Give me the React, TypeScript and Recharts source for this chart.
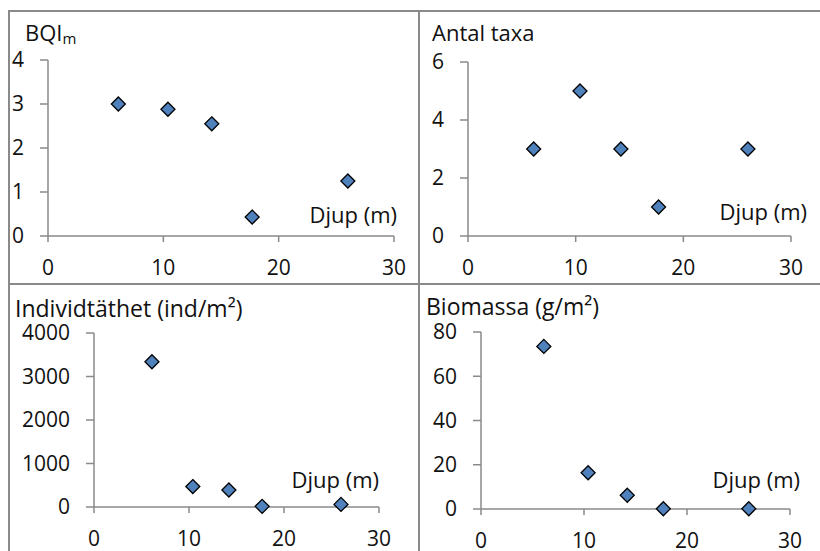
import { ScatterChart, Scatter, XAxis, YAxis } from "recharts";

// depth of each station (m)
const depth = [6.1, 10.4, 14.2, 17.7, 26.0];

const bqi = [3.0, 2.88, 2.55, 0.43, 1.25];
const taxa = [3, 5, 3, 1, 3];
const density = [3340, 470, 390, 15, 60];
const biomass = [73.5, 16.4, 6.2, 0.1, 0.1];

const depthTicks = [0, 10, 20, 30];
const bqiTicks = [0, 1, 2, 3, 4];
const taxaTicks = [0, 2, 4, 6];
const densityTicks = [0, 1000, 2000, 3000, 4000];
const biomassTicks = [0, 20, 40, 60, 80];

const FONT = "'Open Sans', 'DejaVu Sans', sans-serif";
const AXIS = "#8a8a8a";
const BORDER = "#8a8a8a";

const toPoints = (ys: number[]) => depth.map((x, i) => ({ x, y: ys[i] }));

const Diamond = (p: any) => {
    const { cx, cy } = p;
    const r = 7;
    return (
        <path
            d={`M${cx},${cy - r}L${cx + r},${cy}L${cx},${cy + r}L${cx - r},${cy}Z`}
            fill="#4f81bd"
            stroke="#000"
            strokeWidth={1.3}
        />
    );
};

type PanelProps = {
    left: number;
    top: number;
    width: number;
    height: number;
    margin: { top: number; right: number; bottom: number; left: number };
    yWidth: number;
    values: number[];
    yTicks: number[];
    title: React.ReactNode;
    titleX: number;
    titleY: number;
    titleSize: number;
    djupDx: number;
    djupDy: number;
};

function Panel(p: PanelProps) {
    const yMax = p.yTicks[p.yTicks.length - 1];
    return (
        <div style={{ position: "absolute", left: p.left, top: p.top }}>
            <ScatterChart width={p.width} height={p.height} margin={p.margin}>
                <XAxis
                    type="number"
                    dataKey="x"
                    domain={[0, 30]}
                    ticks={depthTicks}
                    interval={0}
                    height={40}
                    stroke={AXIS}
                    strokeWidth={1.5}
                    tickSize={6}
                    tickMargin={18}
                    tick={{ fill: "#111", fontSize: 21, fontFamily: FONT }}
                    label={(lp: any) => {
                        const vb = lp.viewBox || {};
                        return (
                            <text
                                x={vb.x + vb.width + p.djupDx}
                                y={vb.y + p.djupDy}
                                textAnchor="end"
                                fontSize={22}
                                fontFamily={FONT}
                                fill="#111"
                            >
                                Djup (m)
                            </text>
                        );
                    }}
                />
                <YAxis
                    type="number"
                    dataKey="y"
                    domain={[0, yMax]}
                    ticks={p.yTicks}
                    interval={0}
                    width={p.yWidth}
                    stroke={AXIS}
                    strokeWidth={1.5}
                    tickSize={8}
                    tickMargin={16}
                    tick={{ fill: "#111", fontSize: 21, fontFamily: FONT }}
                    label={() => (
                        <text
                            x={p.titleX}
                            y={p.titleY}
                            fontSize={p.titleSize}
                            fontFamily={FONT}
                            fill="#111"
                        >
                            {p.title}
                        </text>
                    )}
                />
                <Scatter data={toPoints(p.values)} shape={Diamond} isAnimationActive={false} />
            </ScatterChart>
        </div>
    );
}

export default function App() {
    const line = (style: React.CSSProperties) => (
        <div style={{ position: "absolute", background: BORDER, ...style }} />
    );
    return (
        <div style={{ position: "absolute", left: 0, top: 0, width: 820, height: 551, background: "#fff", overflow: "hidden" }}>
            {line({ left: 8, top: 10, width: 812, height: 2 })}
            {line({ left: 8, top: 283, width: 812, height: 2 })}
            {line({ left: 8, top: 10, width: 2, height: 541 })}
            {line({ left: 418, top: 10, width: 2, height: 541 })}

            <Panel
                left={9}
                top={12}
                width={410}
                height={272}
                margin={{ top: 48, right: 25, bottom: 8, left: 0 }}
                yWidth={39}
                values={bqi}
                yTicks={bqiTicks}
                title={
                    <>
                        BQI
                        <tspan fontSize={15} dy={3}>m</tspan>
                    </>
                }
                titleX={16}
                titleY={29}
                titleSize={22}
                djupDx={3}
                djupDy={-13}
            />
            <Panel
                left={420}
                top={12}
                width={400}
                height={272}
                margin={{ top: 50, right: 29, bottom: 8, left: 0 }}
                yWidth={48}
                values={taxa}
                yTicks={taxaTicks}
                title="Antal taxa"
                titleX={12}
                titleY={29}
                titleSize={22}
                djupDx={16}
                djupDy={-16}
            />
            <Panel
                left={9}
                top={285}
                width={410}
                height={266}
                margin={{ top: 48, right: 40, bottom: 4, left: 0 }}
                yWidth={85}
                values={density}
                yTicks={densityTicks}
                title="Individtäthet (ind/m²)"
                titleX={6}
                titleY={32}
                titleSize={23}
                djupDx={0}
                djupDy={-19}
            />
            <Panel
                left={420}
                top={285}
                width={400}
                height={266}
                margin={{ top: 47, right: 30, bottom: 2, left: 0 }}
                yWidth={61}
                values={biomass}
                yTicks={biomassTicks}
                title="Biomassa (g/m²)"
                titleX={6}
                titleY={30}
                titleSize={23}
                djupDx={10}
                djupDy={-21}
            />
        </div>
    );
}
